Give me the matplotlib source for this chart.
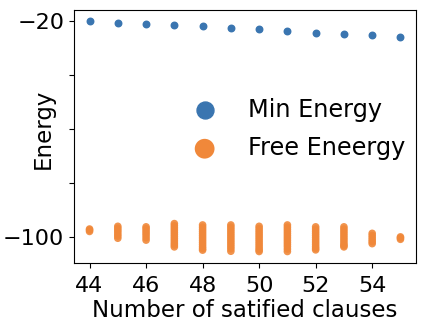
import numpy as np
import matplotlib
matplotlib.use("Agg")
import matplotlib.pyplot as plt

clauses = [44, 45, 46, 47, 48, 49, 50, 51, 52, 53, 54, 55]
min_energy = [-20.3, -20.7, -21.1, -21.6, -22.1, -22.6, -23.2, -23.9, -24.4, -24.9, -25.4, -25.9]

# free energy samples for each number of satisfied clauses
free_energy = {
    44: [-96.9, -97.3, -97.8],
    45: [-95.9, -96.6, -97.3, -98.0, -98.8, -99.5, -100.3],
    46: [-96.1, -96.8, -97.6, -98.4, -99.2, -100.1, -101.0],
    47: [-94.9, -95.7, -96.5, -97.3, -98.1, -98.9, -99.7, -100.5, -101.3, -102.1, -102.8, -103.5],
    48: [-95.4, -96.2, -97.0, -97.8, -98.6, -99.4, -100.2, -101.0, -101.8, -102.6, -103.4, -104.1, -104.7],
    49: [-95.4, -96.2, -97.0, -97.8, -98.6, -99.4, -100.2, -101.0, -101.8, -102.6, -103.4, -104.2, -105.1],
    50: [-95.9, -96.7, -97.5, -98.3, -99.1, -99.9, -100.7, -101.5, -102.3, -103.1, -103.9, -104.6, -105.2],
    51: [-95.4, -96.2, -97.0, -97.8, -98.6, -99.4, -100.2, -101.0, -101.8, -102.6, -103.4, -104.3, -105.2],
    52: [-96.1, -96.9, -97.7, -98.5, -99.3, -100.1, -100.9, -101.7, -102.5, -103.3, -104.0, -104.6],
    53: [-96.1, -96.9, -97.7, -98.5, -99.3, -100.1, -100.9, -101.7, -102.5, -103.0, -103.5],
    54: [-98.5, -99.3, -100.1, -100.9, -101.6, -102.3],
    55: [-99.8, -100.2, -100.7],
}

yticks = [-20, -40, -60, -80, -100]
ytick_labels = ["\u221220", "", "", "", "\u2212100"]
xticks = [44, 46, 48, 50, 52, 54]

fig = plt.figure(figsize=(4.26, 3.22), dpi=100)
ax = fig.add_axes([74/426, 1 - 263/322, (416-74)/426, (263-10)/322])

ax.scatter(clauses, min_energy, s=22, color="#3a75b0", label="Min Energy", zorder=3)

fx = []
fy = []
for c in clauses:
    for v in free_energy[c]:
        fx.append(c)
        fy.append(v)
ax.scatter(fx, fy, s=30, color="#f0883a", alpha=0.9, edgecolors="none", label="Free Eneergy", zorder=3)

ax.set_xticks(xticks)
ax.set_yticks(yticks)
ax.set_yticklabels(ytick_labels)
ax.tick_params(labelsize=16, length=3.5)
ax.tick_params(axis="x", pad=6)
ax.set_xlabel("Number of satified clauses", fontsize=16.5, labelpad=2)
ax.set_ylabel("Energy", fontsize=16.5)
ax.yaxis.set_label_coords(-0.056, 0.53)

leg = ax.legend(loc="upper left", bbox_to_anchor=(171/426, 1 - 88/322), bbox_transform=fig.transFigure,
                frameon=False, fontsize=17.3, markerscale=2.6, handletextpad=0.8,
                labelspacing=0.6, borderaxespad=0)
for h in leg.legend_handles:
    h.set_alpha(1)

fig.savefig("out.png", dpi=100)
